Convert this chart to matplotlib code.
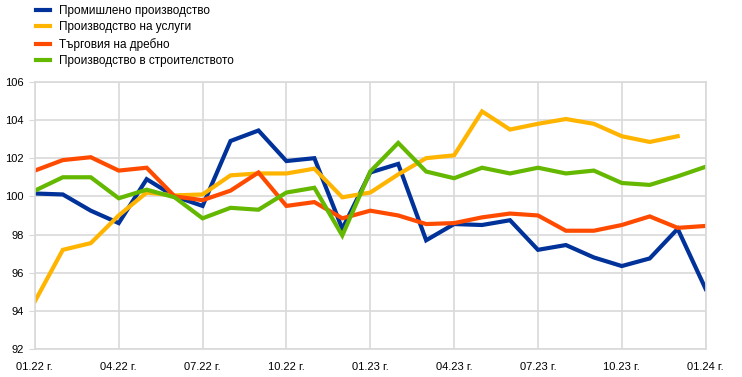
import matplotlib
matplotlib.use("Agg")
import matplotlib.pyplot as plt
import numpy as np

# Données (indices mensuels, 01.22 -> 01.24)
mois = list(range(25))
etiquettes = ["01.22 г.", "04.22 г.", "07.22 г.", "10.22 г.", "01.23 г.",
              "04.23 г.", "07.23 г.", "10.23 г.", "01.24 г."]

promishleno = [100.15, 100.1, 99.25, 98.6, 100.9, 100.0, 99.5, 102.9, 103.45,
               101.85, 102.0, 98.3, 101.25, 101.7, 97.7, 98.55, 98.5, 98.75,
               97.2, 97.45, 96.8, 96.35, 96.75, 98.3, 95.15]
uslugi = [94.5, 97.2, 97.55, 99.0, 100.2, 100.05, 100.1, 101.1, 101.2,
          101.2, 101.45, 99.95, 100.2, 101.15, 102.0, 102.15, 104.45, 103.5,
          103.8, 104.05, 103.8, 103.15, 102.85, 103.15, np.nan]
drebno = [101.35, 101.9, 102.05, 101.35, 101.5, 100.0, 99.8, 100.3, 101.25,
          99.5, 99.7, 98.85, 99.25, 99.0, 98.55, 98.6, 98.9, 99.1,
          99.0, 98.2, 98.2, 98.5, 98.95, 98.35, 98.45]
stroitelstvo = [100.3, 101.0, 101.0, 99.9, 100.35, 99.95, 98.85, 99.4, 99.3,
                100.2, 100.45, 97.95, 101.3, 102.8, 101.3, 100.95, 101.5, 101.2,
                101.5, 101.2, 101.35, 100.7, 100.6, 101.05, 101.55]

noms = ["Промишлено производство", "Производство на услуги",
        "Търговия на дребно", "Производство в строителството"]
couleurs = ["#003299", "#FFB400", "#FF4B00", "#65B800"]

plt.rcParams['font.family'] = ['Liberation Sans', 'DejaVu Sans']

fig = plt.figure(figsize=(7.42, 3.77), dpi=100)
ax = fig.add_axes([0.047, 0.074, 0.904, 0.709])

for serie, nom, c in zip([promishleno, uslugi, drebno, stroitelstvo], noms, couleurs):
    ax.plot(mois, serie, color=c, lw=3, label=nom, solid_joinstyle='miter')

ax.set_xlim(0, 24)
ax.set_ylim(92, 106)
ax.set_yticks(range(92, 107, 2))
ax.set_xticks(range(0, 25, 3))
ax.set_xticklabels(etiquettes)

# Grille et bordures grises
ax.grid(True, color="#d9d9d9", lw=1.2)
ax.set_axisbelow(True)
for s in ax.spines.values():
    s.set_color("#d9d9d9")
    s.set_linewidth(1.2)
ax.tick_params(axis='y', length=4, color="#d9d9d9", labelsize=8, pad=4)
ax.tick_params(axis='x', length=0, labelsize=8, pad=9)

# Légende en haut à gauche
fig.legend(loc='upper left', bbox_to_anchor=(0.037, 1.008), frameon=False,
           fontsize=8.5, handlelength=1.2, handletextpad=0.75,
           labelspacing=0.36, borderaxespad=0.3)

plt.savefig("out.png", dpi=100)
